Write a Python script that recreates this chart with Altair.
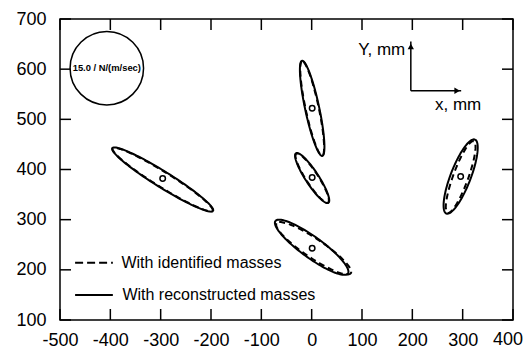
import altair as alt
import pandas as pd
import numpy as np

# ---- axis ticks ----
x_ticks = [-500, -400, -300, -200, -100, 0, 100, 200, 300, 400]
y_ticks = [100, 200, 300, 400, 500, 600, 700]

# ---- ellipse parameters (data units) ----
ell_id = ["A", "B", "C", "D", "E"]
solid_cx = [-296, 1, 1, 0, 296]
solid_cy = [380, 522, 383, 245, 386]
solid_a = [118, 97, 59, 89, 79]
solid_b = [16, 14, 13, 21, 20]
solid_ang = [-32, 102, 123, 144, 69]

dash_cx = [-296, 1, 1, 4, 296]
dash_cy = [380, 522, 383, 243, 385]
dash_a = [117, 96, 58, 89, 76]
dash_b = [15, 13, 12, 19, 15]
dash_ang = [-32, 102, 123, 146, 70]

center_x = [-296, 1, 1, 1, 296]
center_y = [382, 522, 384, 243, 386]

# scale circle
circle_x = [-407]
circle_y = [602]
circle_label = ["15.0 / N/(m/sec)"]

# coordinate arrows
arrow_x0 = [197, 197]
arrow_y0 = [557, 557]
arrow_x1 = [197, 297]
arrow_y1 = [655, 557]
arrow_head_x = [197, 289]
arrow_head_y = [645, 557]
arrow_head_shape = ["triangle-up", "triangle-right"]
arrow_text = ["Y, mm", "x, mm"]
arrow_text_x = [186, 291]
arrow_text_y = [638, 528]

# legend
legend_labels = ["With identified masses", "With reconstructed masses"]
legend_y = [214, 150]
legend_x0 = [-470, -470]
legend_x1 = [-395, -395]
legend_text_x = [-378, -376]

# last x tick label (drawn separately so it stays inside the page)
last_x_label = ["400"]
last_x_value = [400]
last_x_at_y = [100]

W, H = 453, 301
FONT = "Liberation Sans"


def ellipse_rows(cx, cy, a, b, ang, kind):
    rows = []
    t = np.linspace(0, 2 * np.pi, 121)
    for k, name in enumerate(ell_id):
        phi = np.deg2rad(ang[k])
        xs = cx[k] + a[k] * np.cos(t) * np.cos(phi) - b[k] * np.sin(t) * np.sin(phi)
        ys = cy[k] + a[k] * np.cos(t) * np.sin(phi) + b[k] * np.sin(t) * np.cos(phi)
        for i in range(len(t)):
            rows.append({"key": kind + name, "i": i, "x": float(xs[i]), "y": float(ys[i])})
    return pd.DataFrame(rows)


solid_df = ellipse_rows(solid_cx, solid_cy, solid_a, solid_b, solid_ang, "s")
dash_df = ellipse_rows(dash_cx, dash_cy, dash_a, dash_b, dash_ang, "d")

xs = alt.Scale(domain=[-500, 400], nice=False, zero=False)
ys = alt.Scale(domain=[100, 700], nice=False, zero=False)
xaxis = alt.Axis(values=x_ticks, grid=False, domain=False, ticks=False, tickSize=0,
                 labelFontSize=18, labelFont=FONT, labelColor="black", labelPadding=11,
                 labelExpr="datum.value == 400 ? '' : '' + datum.value",
                 title=None, labelFlush=False)
yaxis = alt.Axis(values=y_ticks, grid=False, domain=False, ticks=False, tickSize=0,
                 labelFontSize=18, labelFont=FONT, labelColor="black", labelPadding=14,
                 title=None)


def X(f):
    return alt.X(f, type="quantitative", scale=xs, axis=xaxis)


def Y(f):
    return alt.Y(f, type="quantitative", scale=ys, axis=yaxis)


solid = alt.Chart(solid_df).mark_line(color="black", strokeWidth=2).encode(
    x=X("x"), y=Y("y"), order="i:Q", detail="key:N")
dashed = alt.Chart(dash_df).mark_line(color="black", strokeWidth=2, strokeDash=[6, 4]).encode(
    x=X("x"), y=Y("y"), order="i:Q", detail="key:N")

centers = alt.Chart(pd.DataFrame({"x": center_x, "y": center_y})).mark_point(
    shape="circle", size=30, filled=True, fill="white", stroke="black", strokeWidth=1.5, opacity=1
).encode(x=X("x"), y=Y("y"))

ytick_df = pd.DataFrame({"v": y_ticks})
xtick_df = pd.DataFrame({"v": x_ticks})
tl = alt.Chart(ytick_df).mark_rule(color="black", strokeWidth=1.5).encode(
    y=Y("v"), x=alt.value(0), x2=alt.value(11))
tr = alt.Chart(ytick_df).mark_rule(color="black", strokeWidth=1.5).encode(
    y=Y("v"), x=alt.value(W - 11), x2=alt.value(W))
tb = alt.Chart(xtick_df).mark_rule(color="black", strokeWidth=1.5).encode(
    x=X("v"), y=alt.value(H), y2=alt.value(H - 11))
tt = alt.Chart(xtick_df).mark_rule(color="black", strokeWidth=1.5).encode(
    x=X("v"), y=alt.value(0), y2=alt.value(11))

last_lab = alt.Chart(pd.DataFrame({"x": last_x_value, "y": last_x_at_y, "t": last_x_label})
                     ).mark_text(fontSize=18, font=FONT, color="black", align="right",
                                 baseline="top", dx=10, dy=11).encode(
    x=X("x"), y=Y("y"), text="t:N")

circ_df = pd.DataFrame({"x": circle_x, "y": circle_y, "t": circle_label})
circ = alt.Chart(circ_df).mark_point(shape="circle", size=5400, stroke="black",
                                     strokeWidth=1.5, filled=False, opacity=1).encode(
    x=X("x"), y=Y("y"))
circ_text = alt.Chart(circ_df).mark_text(fontSize=9.4, fontWeight="bold", font=FONT,
                                         color="black").encode(
    x=X("x"), y=Y("y"), text="t:N")

arr_df = pd.DataFrame({"x": arrow_x0, "y": arrow_y0, "x2": arrow_x1, "y2": arrow_y1})
arrows = alt.Chart(arr_df).mark_rule(color="black", strokeWidth=1.5).encode(
    x=X("x"), y=Y("y"), x2="x2", y2="y2")
head_df = pd.DataFrame({"x": arrow_head_x, "y": arrow_head_y, "s": arrow_head_shape})
heads = alt.Chart(head_df).mark_point(filled=True, color="black", size=40, opacity=1).encode(
    x=X("x"), y=Y("y"),
    shape=alt.Shape("s:N", scale=alt.Scale(domain=arrow_head_shape, range=arrow_head_shape),
                    legend=None))
atext_df = pd.DataFrame({"x": arrow_text_x, "y": arrow_text_y, "t": arrow_text})
atext_r = alt.Chart(atext_df.iloc[[0]]).mark_text(fontSize=17, font=FONT, color="black",
                                                   align="right").encode(
    x=X("x"), y=Y("y"), text="t:N")
atext_c = alt.Chart(atext_df.iloc[[1]]).mark_text(fontSize=17, font=FONT, color="black",
                                                   align="center").encode(
    x=X("x"), y=Y("y"), text="t:N")

leg_df = pd.DataFrame({"x": legend_x0, "x2": legend_x1, "y": legend_y,
                       "tx": legend_text_x, "t": legend_labels})
leg_dash = alt.Chart(leg_df.iloc[[0]]).mark_rule(color="black", strokeWidth=2,
                                                  strokeDash=[8, 4]).encode(
    x=X("x"), x2="x2", y=Y("y"))
leg_solid = alt.Chart(leg_df.iloc[[1]]).mark_rule(color="black", strokeWidth=2).encode(
    x=X("x"), x2="x2", y=Y("y"))
leg_text = alt.Chart(leg_df).mark_text(fontSize=16, font=FONT, color="black",
                                       align="left").encode(
    x=X("tx"), y=Y("y"), text="t:N")

chart = alt.layer(
    tl, tr, tb, tt, solid, dashed, centers, circ, circ_text, arrows, heads,
    atext_r, atext_c, leg_dash, leg_solid, leg_text, last_lab
).properties(
    width=W, height=H,
    padding={"left": 52, "top": 11, "right": 10, "bottom": 28},
    autosize=alt.AutoSizeParams(type="none"),
    background="white",
).configure_view(stroke="black", strokeWidth=1.5)

chart.save("out.html", embed_options={"renderer": "svg", "actions": False})
